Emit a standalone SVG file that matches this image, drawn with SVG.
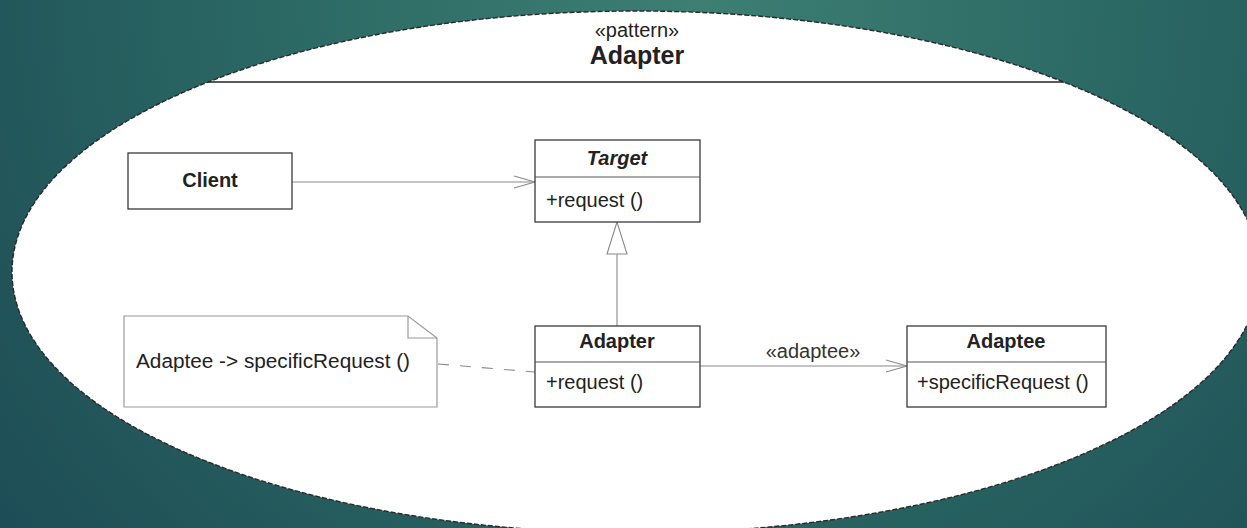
<svg xmlns="http://www.w3.org/2000/svg" width="1247" height="528" viewBox="0 0 1247 528">
  <style>
    .box { fill: #ffffff; stroke: #3a3a3a; stroke-width: 1.3; }
    .div { stroke: #555555; stroke-width: 1; }
    .note { fill: #ffffff; stroke: #9a9a9a; stroke-width: 1.2; }
    .conn { fill: none; stroke: #8a8a8a; stroke-width: 1.1; }
    .t { font-family: "Liberation Sans", Arial, sans-serif; fill: #222222; }
    .name { font-size: 20px; font-weight: bold; text-anchor: middle; }
    .op { font-size: 20px; }
    .lbl { font-size: 20px; fill: #333333; }
  </style>
  <defs>
    <radialGradient id="bg" cx="700" cy="0" r="950" gradientUnits="userSpaceOnUse">
      <stop offset="0" stop-color="#3d7f73"/>
      <stop offset="0.45" stop-color="#2b6864"/>
      <stop offset="1" stop-color="#1b4853"/>
    </radialGradient>
    <clipPath id="oval">
      <ellipse cx="636" cy="272" rx="624" ry="261"/>
    </clipPath>
    <marker id="open" markerWidth="24" markerHeight="14" refX="22" refY="7" orient="auto" markerUnits="userSpaceOnUse">
      <path d="M1,1 L22,7 L1,13" fill="none" stroke="#8a8a8a" stroke-width="1.1"/>
    </marker>
  </defs>

  <!-- backdrop -->
  <rect x="0" y="0" width="1247" height="528" fill="url(#bg)"/>

  <!-- package outline with stereotype header -->
  <g id="pattern">
    <ellipse cx="636" cy="272" rx="624" ry="261" fill="#ffffff" stroke="#2a2a2a" stroke-width="1.4" stroke-dasharray="5 2"/>
    <line x1="150" y1="82" x2="1120" y2="82" stroke="#222222" stroke-width="1.6" clip-path="url(#oval)"/>
    <text class="t" x="637" y="37" font-size="20" text-anchor="middle">«pattern»</text>
    <text class="t" x="637" y="64" font-size="25" font-weight="bold" text-anchor="middle">Adapter</text>
  </g>

  <!-- connectors -->
  <g id="connectors">
    <line class="conn" x1="292" y1="182" x2="535" y2="182" marker-end="url(#open)"/>
    <line class="conn" x1="617" y1="254" x2="617" y2="326"/>
    <polygon points="617,222 607,254 627,254" fill="#ffffff" stroke="#8a8a8a" stroke-width="1.1"/>
    <line class="conn" x1="700" y1="366" x2="907" y2="366" marker-end="url(#open)"/>
    <text class="t lbl" x="813" y="358" text-anchor="middle">«adaptee»</text>
    <line class="conn" x1="438" y1="364" x2="535" y2="372" stroke-dasharray="11 11"/>
  </g>

  <g id="client">
    <rect class="box" x="128" y="153" width="164" height="56"/>
    <text class="t name" x="210" y="187">Client</text>
  </g>

  <g id="target">
    <rect class="box" x="535" y="140" width="165" height="82"/>
    <line class="div" x1="535" y1="177" x2="700" y2="177"/>
    <text class="t name" x="617" y="165" font-style="italic">Target</text>
    <text class="t op" x="546" y="207">+request ()</text>
  </g>

  <g id="adapter">
    <rect class="box" x="535" y="326" width="165" height="81"/>
    <line class="div" x1="535" y1="362" x2="700" y2="362"/>
    <text class="t name" x="617" y="348">Adapter</text>
    <text class="t op" x="546" y="389">+request ()</text>
  </g>

  <g id="adaptee">
    <rect class="box" x="907" y="326" width="199" height="81"/>
    <line class="div" x1="907" y1="362" x2="1106" y2="362"/>
    <text class="t name" x="1006" y="348">Adaptee</text>
    <text class="t op" x="917" y="389">+specificRequest ()</text>
  </g>

  <g id="note">
    <path class="note" d="M124,316 L408,316 L437,338 L437,407 L124,407 Z"/>
    <path d="M408,316 L408,338 L437,338" fill="none" stroke="#9a9a9a" stroke-width="1.2"/>
    <text class="t op" x="136" y="368" fill="#333333" textLength="274" lengthAdjust="spacingAndGlyphs">Adaptee -&gt; specificRequest ()</text>
  </g>
</svg>
